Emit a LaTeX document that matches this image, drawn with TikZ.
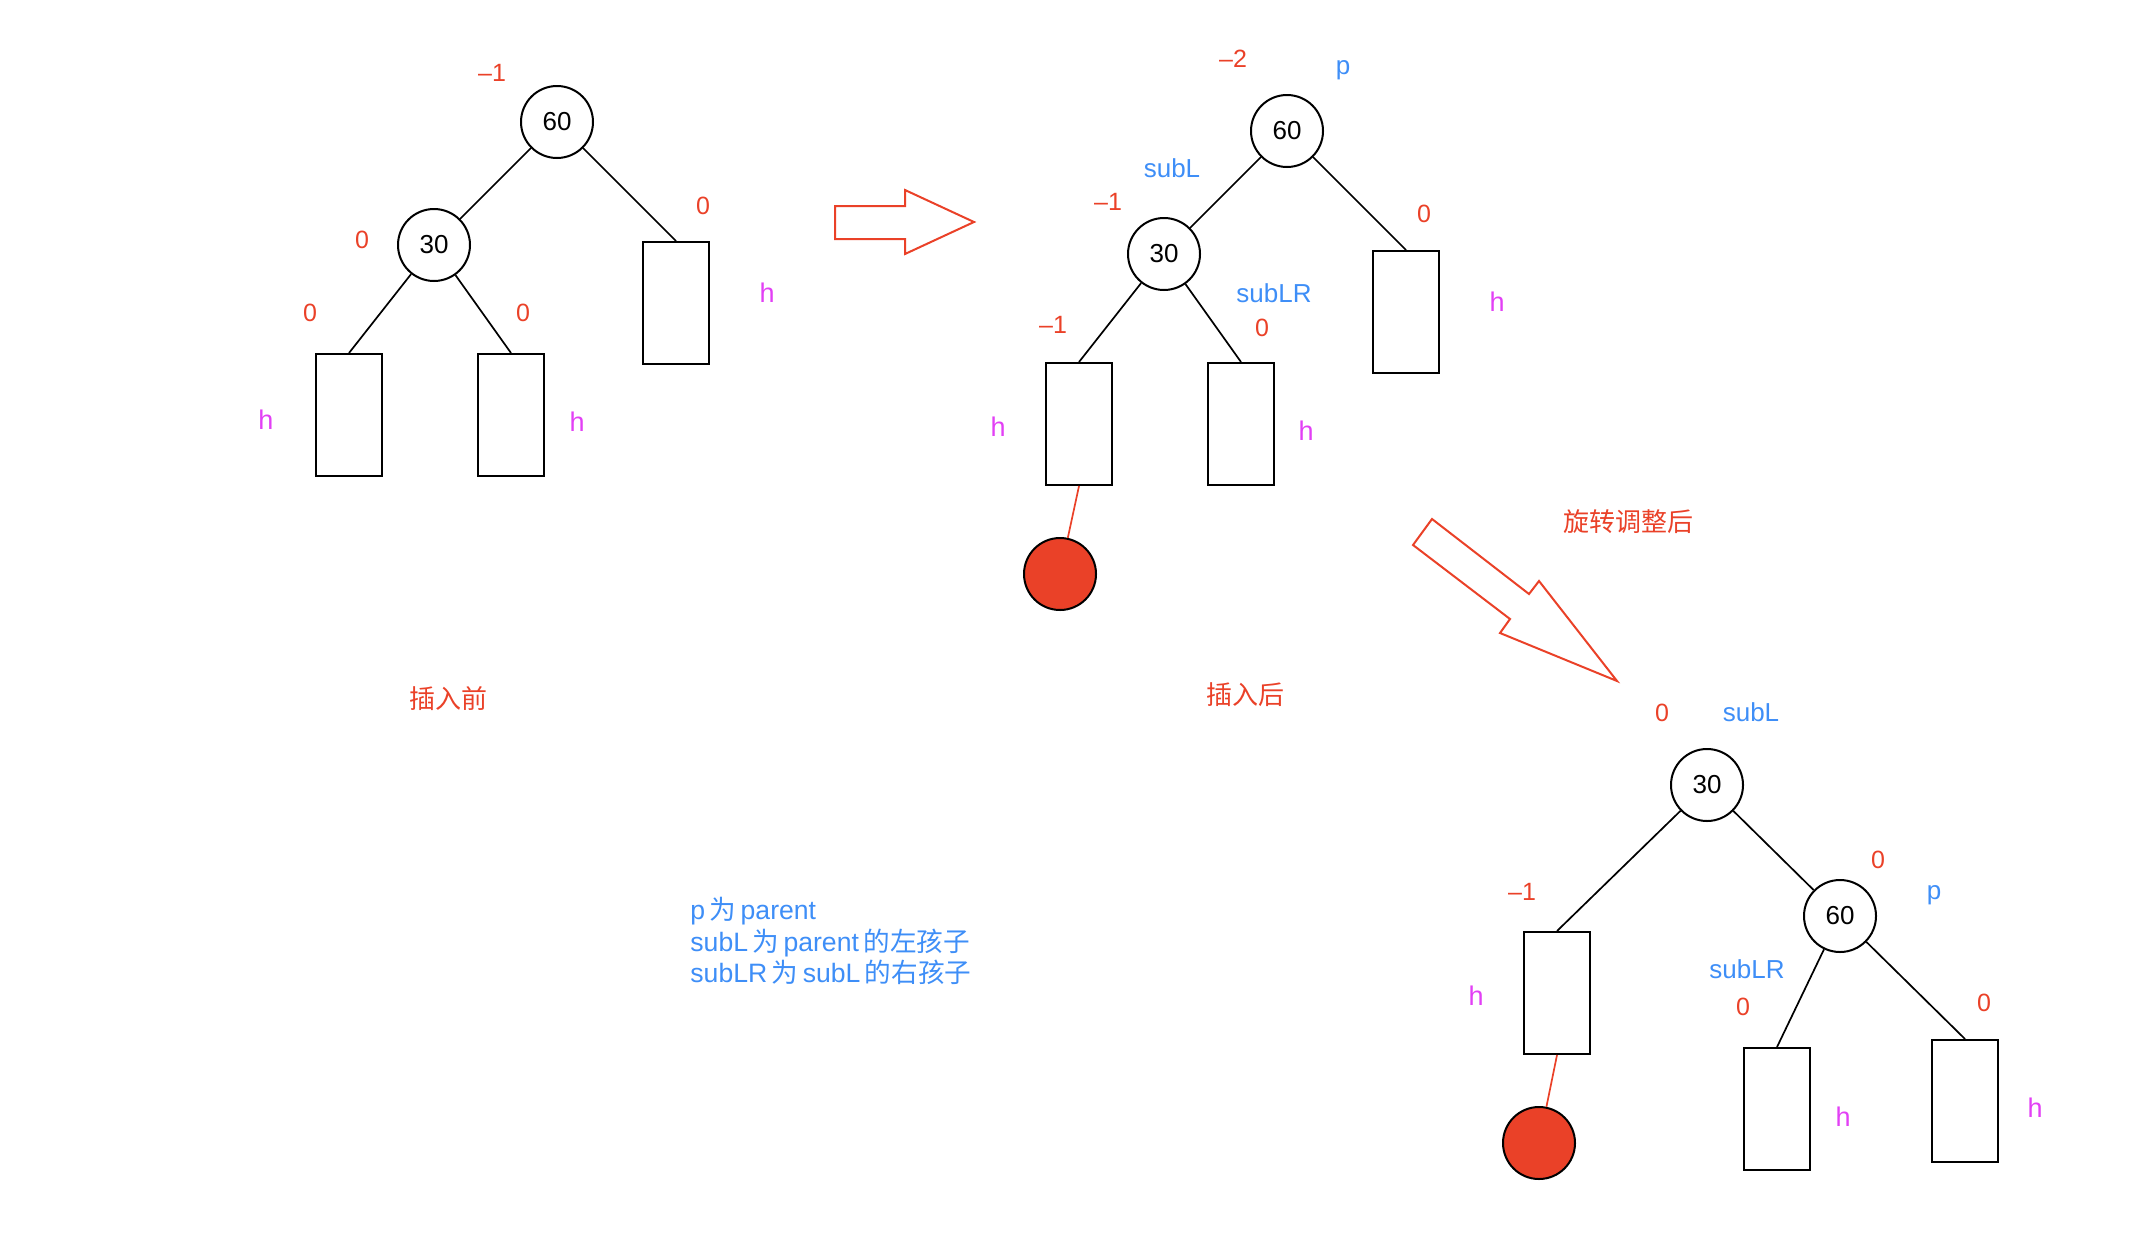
\documentclass[tikz,border=0pt]{standalone}
\usepackage{fontspec}
\setmainfont{Liberation Sans}
\newfontfamily\cjk{Noto Sans CJK SC}
\definecolor{myred}{RGB}{234,65,40}
\definecolor{myblue}{RGB}{62,142,247}
\definecolor{mymag}{RGB}{226,64,245}
\begin{document}
\begin{tikzpicture}[x=0.5pt,y=-0.5pt,
 circ/.style={circle,draw,line width=1pt,minimum size=36pt,inner sep=0pt,font=\fontsize{13}{15}\selectfont},
 leaf/.style={rectangle,draw,line width=1pt,minimum width=33pt,minimum height=61pt,inner sep=0pt},
 bf/.style={text=myred,font=\fontsize{12.5}{14}\selectfont,inner sep=0pt},
 hl/.style={text=mymag,font=\fontsize{13.5}{15}\selectfont,inner sep=0pt},
 bl/.style={text=myblue,font=\fontsize{13}{15}\selectfont,inner sep=0pt},
 cn/.style={text=myred,font=\fontsize{13}{15}\selectfont\cjk,inner sep=0pt},
 edge/.style={line width=0.85pt},
 rededge/.style={line width=0.85pt,draw=myred},
 redball/.style={circle,draw,line width=1pt,fill=myred,minimum size=36pt,inner sep=0pt},
 bigarrow/.style={draw=myred,line width=1pt,line join=miter}]
\useasboundingbox (0,0) rectangle (2140,1248);

% ---------- tree 1 (before insertion) ----------
\node[circ] (a60) at (557,122) {60};
\node[circ] (a30) at (434,245) {30};
\node[leaf] (aLL) at (349,415) {};
\node[leaf] (aLR) at (511,415) {};
\node[leaf] (aR) at (676,303) {};
\draw[edge] (a60) -- (a30);
\draw[edge] (a60) -- (aR.north);
\draw[edge] (a30) -- (aLL.north);
\draw[edge] (a30) -- (aLR.north);
\node[bf] (a1) at (492,73) {–1};
\node[bf] (a2) at (362,240) {0};
\node[bf] (a3) at (703,206) {0};
\node[bf] (a4) at (310,313) {0};
\node[bf] (a5) at (523,313) {0};
\node[hl] (a6) at (266,420) {h};
\node[hl] (a7) at (577,422) {h};
\node[hl] (a8) at (767,293) {h};
\node[cn] (a9) at (448,699) {插入前};

% ---------- arrow 1 ----------
\draw[bigarrow] (835,206) -- (905,206) -- (905,190) -- (974,222) -- (905,254) -- (905,239) -- (835,239) -- cycle;

% ---------- tree 2 (after insertion) ----------
\node[circ] (b60) at (1287,131) {60};
\node[circ] (b30) at (1164,254) {30};
\node[leaf] (bL) at (1079,424) {};
\node[leaf] (bM) at (1241,424) {};
\node[leaf] (bR) at (1406,312) {};
\node[redball] (bball) at (1060,574) {};
\draw[edge] (b60) -- (b30);
\draw[edge] (b60) -- (bR.north);
\draw[edge] (b30) -- (bL.north);
\draw[edge] (b30) -- (bM.north);
\draw[rededge] (bL.south) -- (bball);
\node[bf] (b1) at (1233,59) {–2};
\node[bl] (b2) at (1343,70) {p};
\node[bl] (b3) at (1172,168) {subL};
\node[bf] (b4) at (1108,202) {–1};
\node[bl] (b5) at (1274,293) {subLR};
\node[bf] (b6) at (1053,325) {–1};
\node[bf] (b7) at (1262,328) {0};
\node[bf] (b8) at (1424,214) {0};
\node[hl] (b9) at (998,427) {h};
\node[hl] (b10) at (1306,431) {h};
\node[hl] (b11) at (1497,302) {h};
\node[cn] (b12) at (1245,695) {插入后};

% ---------- arrow 2 ----------
\draw[bigarrow] (1432,519) -- (1413,545) -- (1510,619) -- (1500,633) -- (1617,681) -- (1539,581) -- (1529,594) -- cycle;
\node[cn] (c0) at (1628,522) {旋转调整后};

% ---------- tree 3 (after rotation) ----------
\node[circ] (c30) at (1707,785) {30};
\node[circ] (c60) at (1840,916) {60};
\node[leaf] (cL) at (1557,993) {};
\node[leaf] (cM) at (1777,1109) {};
\node[leaf] (cR) at (1965,1101) {};
\node[redball] (cball) at (1539,1143) {};
\draw[edge] (c30) -- (c60);
\draw[edge] (c30) -- (cL.north);
\draw[edge] (c60) -- (cM.north);
\draw[edge] (c60) -- (cR.north);
\draw[rededge] (cL.south) -- (cball);
\node[bf] (c1) at (1662,713) {0};
\node[bl] (c2) at (1751,712) {subL};
\node[bf] (c3) at (1878,860) {0};
\node[bl] (c4) at (1934,895) {p};
\node[bf] (c5) at (1522,892) {–1};
\node[bl] (c6) at (1747,969) {subLR};
\node[bf] (c7) at (1743,1007) {0};
\node[bf] (c8) at (1984,1003) {0};
\node[hl] (c9) at (1476,996) {h};
\node[hl] (c10) at (1843,1117) {h};
\node[hl] (c11) at (2035,1108) {h};

% ---------- legend ----------
\node[text=myblue,font=\fontsize{13.3}{15.7}\selectfont,align=left,anchor=west,inner sep=0pt] (leg) at (690,941)
 {p\,{\cjk 为}\,parent\\subL\,{\cjk 为}\,parent\,{\cjk 的左孩子}\\subLR\,{\cjk 为}\,subL\,{\cjk 的右孩子}};
\end{tikzpicture}
\end{document}
